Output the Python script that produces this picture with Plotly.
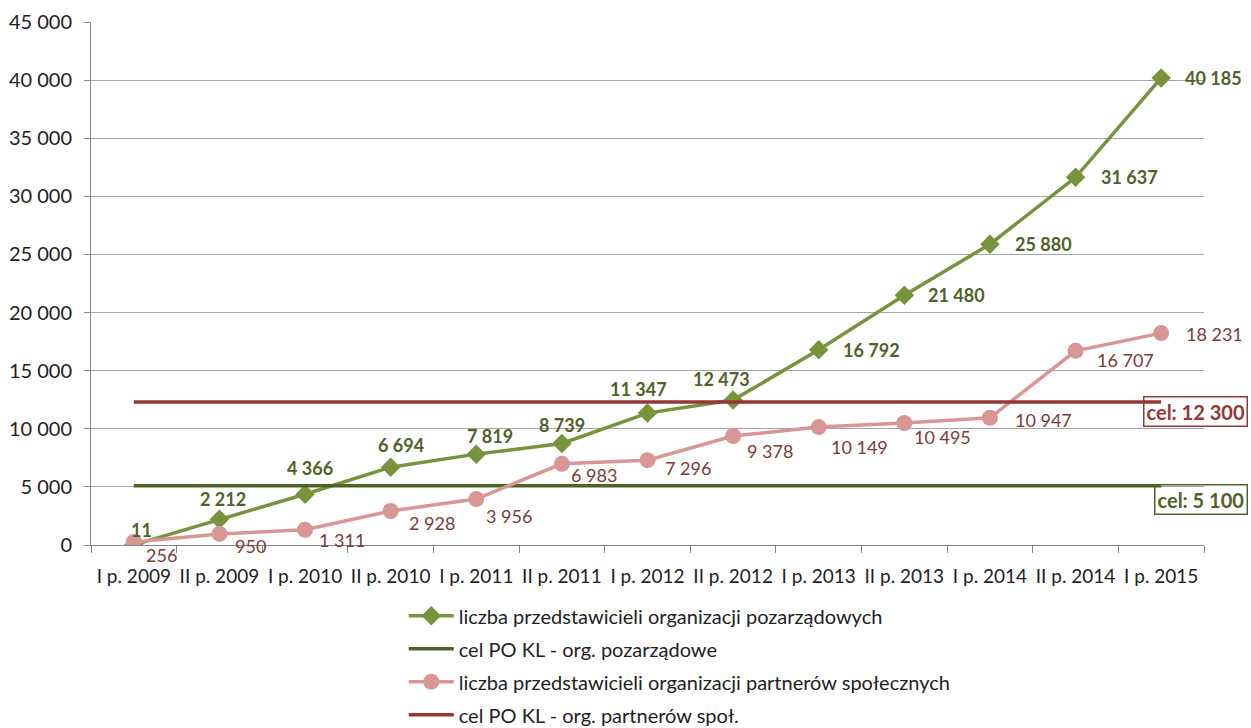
import plotly.graph_objects as go

periods = ["I p. 2009", "II p. 2009", "I p. 2010", "II p. 2010", "I p. 2011",
           "II p. 2011", "I p. 2012", "II p. 2012", "I p. 2013", "II p. 2013",
           "I p. 2014", "II p. 2014", "I p. 2015"]
ngo_counts = [11, 2212, 4366, 6694, 7819, 8739, 11347, 12473, 16792, 21480,
              25880, 31637, 40185]
partner_counts = [256, 950, 1311, 2928, 3956, 6983, 7296, 9378, 10149, 10495,
                  10947, 16707, 18231]
ngo_target = 5100
partner_target = 12300

# label placement per point: (anchor, x offset px, y offset px; +y is up)
ngo_label_style = [("center", 8, 15), ("center", 4, 20), ("center", 5, 26),
                   ("center", 10, 22), ("center", 14, 18), ("center", 0, 18),
                   ("center", -9, 24), ("center", -12, 21), ("left", 22, 0),
                   ("left", 22, 0), ("left", 23, 0), ("left", 23, 0),
                   ("left", 22, 0)]
partner_label_style = [("left", 10, -13), ("left", 14, -12), ("left", 12, -10),
                       ("left", 16, -12), ("left", 8, -17), ("left", 7, -11),
                       ("left", 15, -8), ("left", 12, -15), ("left", 10, -20),
                       ("left", 8, -14), ("left", 23, -2), ("left", 19, -9),
                       ("left", 23, -1)]

GREEN = "#77933C"
DARK_GREEN = "#4F6228"
PINK = "#D99694"
DARK_RED = "#953735"
LABEL_RED = "#7B3B3A"
FONT = "Lato, 'Open Sans', sans-serif"


def fmt(v):
    return f"{v:,}".replace(",", " ")


fig = go.Figure()

fig.add_trace(go.Scatter(
    x=periods, y=ngo_counts, name="liczba przedstawicieli organizacji pozarządowych",
    mode="lines+markers", legendgroup="a",
    line=dict(color=GREEN, width=3.5),
    marker=dict(symbol="diamond", size=15, color=GREEN),
))
fig.add_trace(go.Scatter(
    x=periods, y=[ngo_target] * len(periods), name="cel PO KL - org. pozarządowe",
    mode="lines", legendgroup="b",
    line=dict(color=DARK_GREEN, width=3.5),
))
fig.add_trace(go.Scatter(
    x=periods, y=partner_counts, name="liczba przedstawicieli organizacji partnerów społecznych",
    mode="lines+markers", legendgroup="c",
    line=dict(color=PINK, width=3.5),
    marker=dict(symbol="circle", size=16, color=PINK),
))
fig.add_trace(go.Scatter(
    x=periods, y=[partner_target] * len(periods), name="cel PO KL - org. partnerów społ.",
    mode="lines", legendgroup="d",
    line=dict(color=DARK_RED, width=3.5),
))

# data labels
for p, v, (anc, dx, dy) in zip(periods, ngo_counts, ngo_label_style):
    fig.add_annotation(x=p, y=v, text=f"<b>{fmt(v)}</b>", showarrow=False,
                       xanchor=anc, yanchor="middle", xshift=dx, yshift=dy,
                       font=dict(color=DARK_GREEN, size=18, family=FONT))
for p, v, (anc, dx, dy) in zip(periods, partner_counts, partner_label_style):
    fig.add_annotation(x=p, y=v, text=fmt(v), showarrow=False,
                       xanchor=anc, yanchor="middle", xshift=dx, yshift=dy,
                       font=dict(color=LABEL_RED, size=18, family=FONT))

# target boxes at the right edge
for val, col, shift in [(partner_target, DARK_RED, -9), (ngo_target, DARK_GREEN, -14)]:
    fig.add_annotation(
        x=1.0395, xref="paper", xanchor="right",
        y=val, yref="y", yanchor="middle", yshift=shift,
        text=f"<b>cel: {fmt(val)}</b>",
        showarrow=False, font=dict(color=col, size=20, family=FONT),
        bordercolor=col, borderwidth=1.5, borderpad=2, bgcolor="rgba(0,0,0,0)",
    )

fig.update_layout(
    width=1251, height=728,
    margin=dict(l=91, r=47, t=22, b=183, autoexpand=False),
    paper_bgcolor="white", plot_bgcolor="white",
    separators=", ",
    font=dict(family=FONT, size=20, color="#222222"),
    showlegend=True,
    legend=dict(orientation="v", x=0.281, xanchor="left",
                yref="container", y=0.181, yanchor="top",
                tracegroupgap=4, font=dict(size=20, color="#222222"),
                itemwidth=45),
)
fig.update_xaxes(
    type="category", range=[-0.5, len(periods) - 0.5],
    tickson="boundaries", ticks="outside", ticklen=7,
    tickcolor="#868686", showline=True, linecolor="#868686", linewidth=1,
    showgrid=False, tickfont=dict(size=19, color="#222222"), tickangle=0,
    ticklabelstandoff=14, automargin=False,
)
fig.update_yaxes(
    range=[0, 45000], dtick=5000, tickformat=",", ticks="outside", ticklen=6,
    tickcolor="#868686", showline=True, linecolor="#868686", linewidth=1,
    showgrid=True, gridcolor="#A6A6A6", gridwidth=1, zeroline=False,
    tickfont=dict(size=20, color="#222222"), ticklabelstandoff=8,
    automargin=False,
)

fig.write_html("out.html")
